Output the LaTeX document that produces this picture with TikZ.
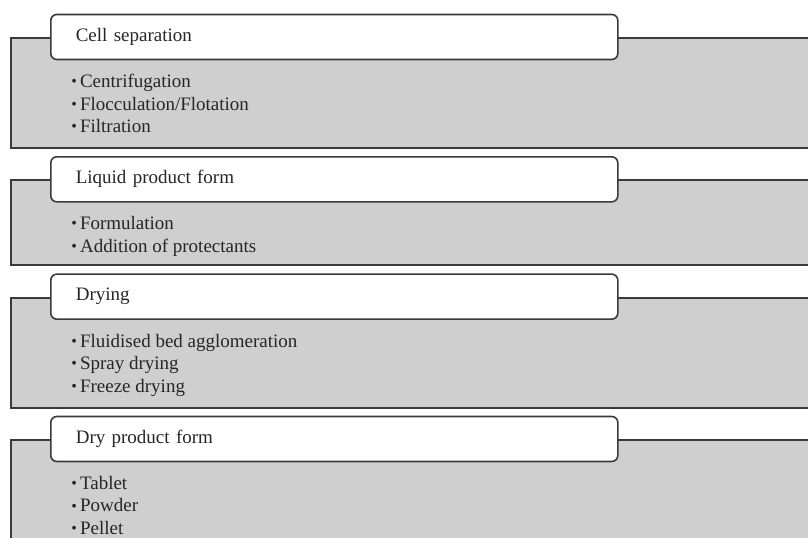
\documentclass[tikz,border=0pt]{standalone}
\usepackage{fontspec}
\setmainfont{Liberation Serif}
\usetikzlibrary{positioning, calc}
\definecolor{panelgray}{HTML}{CFCFCF}
\definecolor{edgegray}{HTML}{3A3A3A}
\tikzset{
  % grey band of one stage
  stagepanel/.style={
    draw=edgegray, fill=panelgray, line width=1.5pt,
    rectangle, anchor=north west,
    minimum width=630pt, inner sep=0pt
  },
  % white title box on the band's top edge
  stagetitle/.style={
    draw=edgegray, fill=white, line width=1.2pt,
    rounded corners=4.5pt, anchor=west, align=left,
    text width=387.75pt, inner xsep=18.75pt, inner ysep=0pt,
    minimum height=33.75pt, text=black!85,
    font=\fontsize{14.25pt}{16.9pt}\selectfont
  },
  % bullet list inside the band
  itemlist/.style={
    anchor=north west, align=left, inner sep=0pt, text=black!85,
    font=\fontsize{14.25pt}{16.9pt}\selectfont
  },
}
\newcommand{\stagebullet}{\raisebox{0.05em}{\fontsize{12pt}{12pt}\selectfont\textbullet}\,}

\begin{document}
\begin{tikzpicture}[x=0.75pt, y=-0.75pt]

  \useasboundingbox (0,0) rectangle (808,538);
  \clip (0,0) rectangle (808,538);

  %% ── Bands ──
  \node[stagepanel, minimum height=82.5pt] (cellp) at (10,37) {};
  \node[stagepanel, minimum height=63.75pt, below=22.75pt of cellp] (liqp) {};
  \node[stagepanel, minimum height=82.5pt, below=22.75pt of liqp] (dryp) {};
  \node[stagepanel, minimum height=105pt, below=22.75pt of dryp] (dprp) {};

  %% ── Titles ──
  \node[stagetitle] (cellt) at ($(cellp.north west)+(40,0)$) {Cell separation};
  \node[stagetitle] (liqt)  at ($(liqp.north west)+(40,0)$)  {Liquid product form};
  \node[stagetitle] (dryt)  at ($(dryp.north west)+(40,0)$)  {Drying};
  \node[stagetitle] (dprt)  at ($(dprp.north west)+(40,0)$)  {Dry product form};

  %% ── Lists ──
  \node[itemlist] (celll) at ($(cellp.north west)+(61,37)$)
    {\stagebullet Centrifugation\\\stagebullet Flocculation/Flotation\\\stagebullet Filtration};
  \node[itemlist] (liql) at ($(liqp.north west)+(61,37)$)
    {\stagebullet Formulation\\\stagebullet Addition of protectants};
  \node[itemlist] (dryl) at ($(dryp.north west)+(61,37)$)
    {\stagebullet Fluidised bed agglomeration\\\stagebullet Spray drying\\\stagebullet Freeze drying};
  \node[itemlist] (dprl) at ($(dprp.north west)+(61,37)$)
    {\stagebullet Tablet\\\stagebullet Powder\\\stagebullet Pellet};

\end{tikzpicture}
\end{document}
